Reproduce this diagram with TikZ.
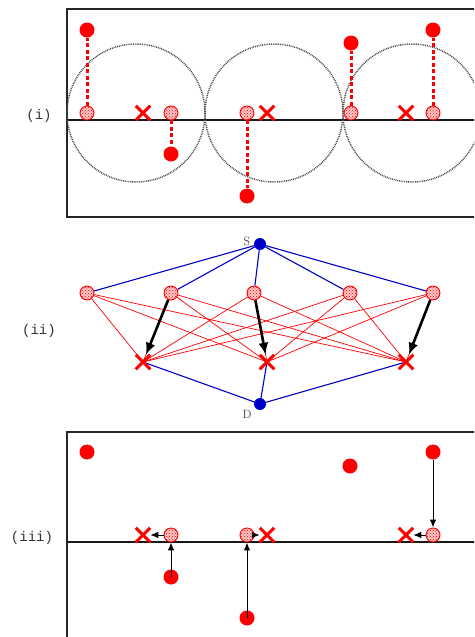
\documentclass[tikz,border=0pt]{standalone}
\usepackage{fontspec}
\newfontfamily\monof{Liberation Mono}
\usetikzlibrary{patterns,arrows.meta,shapes.misc}
\pgfdeclarelayer{bg}
\pgfsetlayers{bg,main}
\begin{document}
\begin{tikzpicture}[x=1pt,y=-1pt,
  hatch/.style={circle,draw=red,line width=0.9pt,preaction={fill=red!22},pattern=crosshatch dots,pattern color=red,minimum size=14pt,inner sep=0pt},
  rdot/.style={circle,fill=red,minimum size=15pt,inner sep=0pt},
  bdot/.style={circle,fill={rgb,255:red,0;green,0;blue,200},minimum size=12pt,inner sep=0pt},
  xmark/.style={cross out,draw=red,line width=3pt,minimum size=11.5pt,inner sep=0pt},
  bigcirc/.style={draw=black!70,line width=1.5pt,dash pattern=on 0.9pt off 0.9pt},
  frame/.style={draw=black!85,line width=1.5pt},
  axis/.style={draw=black!90,line width=1.2pt},
  candy/.style={draw=red,line width=3pt,dash pattern=on 4pt off 2.5pt},
  rline/.style={draw=red,line width=0.7pt},
  bline/.style={draw={rgb,255:red,0;green,0;blue,200},line width=1.1pt},
  thick arrow/.style={draw=black,line width=2.6pt,-{Latex[length=12pt,width=10pt]}},
  thin arrow/.style={draw=black,line width=1pt,-{Latex[length=8pt,width=6.5pt]}},
  lab/.style={font=\monof\fontsize{14}{14}\selectfont,text=black!80},
  sdlab/.style={font=\fontsize{12}{12}\selectfont,text=black!75}
]
\useasboundingbox (0,0) rectangle (474,637);
\clip (0,0) rectangle (474,637);

% ---------- (i) ----------
\node[lab] (li) at (39,116) {(i)};
\draw[frame] (480,9) -- (67,9) -- (67,217) -- (480,217);
\draw[axis] (67,120) -- (480,120);
\draw[bigcirc] (136,113) circle (69);
\draw[bigcirc] (274,113) circle (69);
\draw[bigcirc] (412,113) circle (69);
\node[hatch] (a1) at (87,113) {};
\node[hatch] (a2) at (171,113) {};
\node[hatch] (a3) at (247,113) {};
\node[hatch] (a4) at (351,113) {};
\node[hatch] (a5) at (433,113) {};
\node[xmark] (ax1) at (143,113) {};
\node[xmark] (ax2) at (267,113) {};
\node[xmark] (ax3) at (406,113) {};
\node[rdot] (ad1) at (87,30) {};
\node[rdot] (ad2) at (171,154) {};
\node[rdot] (ad3) at (247,196) {};
\node[rdot] (ad4) at (351,43) {};
\node[rdot] (ad5) at (433,30) {};
\foreach \i in {1,...,5} \draw[candy] (a\i) -- (ad\i);

% ---------- (ii) ----------
\node[lab] (lii) at (39,331) {(ii)};
\node[bdot] (S) at (260,244) {};
\node[bdot] (D) at (260,404) {};
\node[sdlab] (Sl) at (247,241) {S};
\node[sdlab] (Dl) at (247,414) {D};
\node[hatch] (h1) at (87,293) {};
\node[hatch] (h2) at (171,293) {};
\node[hatch] (h3) at (254,293) {};
\node[hatch] (h4) at (350,293) {};
\node[hatch] (h5) at (433,293) {};
\node[xmark] (c1) at (143,362) {};
\node[xmark] (c2) at (267,362) {};
\node[xmark] (c3) at (406,362) {};
\begin{pgfonlayer}{bg}
  \foreach \i in {1,...,5} {
    \foreach \j in {1,2,3} \draw[rline] (h\i) -- (c\j.center);
    \draw[bline] (S.center) -- (h\i);
  }
  \foreach \j in {1,2,3} \draw[bline] (D.center) -- (c\j.center);
\end{pgfonlayer}
\draw[thick arrow] (h2) -- (c1);
\draw[thick arrow] (h3) -- (c2);
\draw[thick arrow] (h5) -- (c3);

% ---------- (iii) ----------
\node[lab] (liii) at (32,538) {(iii)};
\draw[frame] (67,640) -- (67,432) -- (480,432);
\draw[axis] (67,542) -- (480,542);
\node[rdot] (d1) at (87,452) {};
\node[rdot] (d2) at (171,577) {};
\node[rdot] (d3) at (247,618) {};
\node[rdot] (d4) at (350,466) {};
\node[rdot] (d5) at (433,452) {};
\node[hatch] (g2) at (171,535) {};
\node[hatch] (g3) at (247,535) {};
\node[hatch] (g5) at (433,535) {};
\node[xmark] (x1) at (143,535) {};
\node[xmark] (x2) at (267,535) {};
\node[xmark] (x3) at (406,535) {};
\draw[thin arrow] (d2.center) -- (g2);
\draw[thin arrow] (d3.center) -- (g3);
\draw[thin arrow] (d5) -- (g5);
\draw[thin arrow] (g2) -- (x1);
\draw[thin arrow] (g3) -- (x2);
\draw[thin arrow] (g5) -- (x3);
\end{tikzpicture}
\end{document}
